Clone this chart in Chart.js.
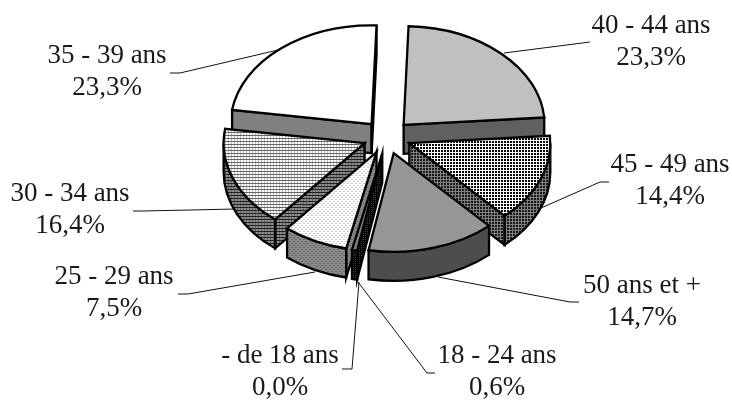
<!DOCTYPE html>
<html>
<head>
<meta charset="utf-8">
<title>Répartition par âge</title>
<style>
  html, body { margin: 0; padding: 0; background: #fff; }
  #wrap { position: relative; width: 732px; height: 400px; }
</style>
</head>
<body>
<div id="wrap"><canvas id="myChart" width="732" height="400"></canvas></div>
<script src="https://cdn.jsdelivr.net/npm/chart.js@4"></script>
<script>
const categories = ['40 - 44 ans', '45 - 49 ans', '50 ans et +', '18 - 24 ans', '- de 18 ans', '25 - 29 ans', '30 - 34 ans', '35 - 39 ans'];
const shares = [23.3, 14.4, 14.7, 0.6, 0.0, 7.5, 16.4, 23.3];

// little bitmap tiles for the old office style hatching
function tile(rows, colors) {
  const c = document.createElement('canvas');
  c.width = rows[0].length;
  c.height = rows.length;
  const g = c.getContext('2d');
  rows.forEach((row, y) => {
    row.split('').forEach((ch, x) => {
      g.fillStyle = colors[ch];
      g.fillRect(x, y, 1, 1);
    });
  });
  return g.createPattern(c, 'repeat');
}

const topFills = [
  '#c0c0c0',
  tile(['##.', '##.', '...'], { '#': '#000', '.': '#fff' }),
  '#969696',
  '#808080',
  '#808080',
  tile(['....', '.gg.', '....', 'g..g'], { '.': '#fff', g: '#c4c4c4' }),
  tile(['ddd', 'l..', 'l..'], { d: '#666', l: '#bbb', '.': '#fff' }),
  '#ffffff'
];
const sideFills = [
  '#606060',
  tile(['##g', '##g', 'ggg'], { '#': '#1a1a1a', g: '#808080' }),
  '#4d4d4d',
  tile(['##', '#d'], { '#': '#000', d: '#444' }),
  '#000000',
  tile(['bbbb', 'bddb', 'bbbb', 'dbbd'], { b: '#8a8a8a', d: '#666' }),
  tile(['ddd', 'lbb', 'lbb'], { d: '#222', l: '#666', b: '#8c8c8c' }),
  '#808080'
];

// where the labels sit: text centre, first baseline, then the leader line points
const callouts = [
  { x: 651, y: 33, line: [[504, 53], [590, 42]] },
  { x: 670, y: 172, line: [[541, 208], [600, 182], [609, 182]] },
  { x: 642, y: 293, line: [[438, 277], [570, 302], [579, 302]] },
  { x: 497, y: 363, line: [[358, 282], [427, 373], [435, 373]] },
  { x: 280, y: 363, line: [[359, 282], [352, 369], [342, 369]] },
  { x: 114, y: 284, line: [[315, 272], [188, 294], [178, 294]] },
  { x: 70, y: 201, line: [[236, 209], [143, 211], [133, 211]] },
  { x: 107, y: 63, line: [[278, 50], [180, 73], [170, 73]] }
];

const squash = 0.7;
const depth = 29;
const pieCentreY = 137;

const fakeThreeD = {
  id: 'fakeThreeD',
  beforeDatasetDraw(chart, args) {
    const ctx = chart.ctx;
    const arcs = args.meta.data;

    // leaders go under the pie
    ctx.save();
    ctx.strokeStyle = '#111';
    ctx.lineWidth = 1;
    callouts.forEach(c => {
      ctx.beginPath();
      c.line.forEach((p, i) => i ? ctx.lineTo(p[0], p[1]) : ctx.moveTo(p[0], p[1]));
      ctx.stroke();
    });
    ctx.restore();

    const order = arcs.map((a, i) => i).filter(i => shares[i] > 0);
    const mid = i => (arcs[i].startAngle + arcs[i].endAngle) / 2;
    order.sort((p, q) => Math.sin(mid(p)) - Math.sin(mid(q)));

    order.forEach(i => {
      const arc = arcs[i];
      const a = arc.startAngle, b = arc.endAngle, m = (a + b) / 2;
      const off = arc.options.offset;
      const R = arc.outerRadius;
      const cx = arc.x + Math.cos(m) * off;
      const cy = pieCentreY + Math.sin(m) * off * squash;
      const rimX = t => cx + Math.cos(t) * R;
      const rimY = t => cy + Math.sin(t) * R * squash;

      ctx.save();
      ctx.lineJoin = 'miter';
      ctx.lineWidth = 2.3;
      ctx.strokeStyle = '#000';
      ctx.fillStyle = sideFills[i];

      // the two cut faces, only when they look at us
      [[a, -Math.cos(a)], [b, Math.cos(b)]].forEach(face => {
        if (face[1] <= 0) return;
        const t = face[0];
        ctx.beginPath();
        ctx.moveTo(cx, cy);
        ctx.lineTo(rimX(t), rimY(t));
        ctx.lineTo(rimX(t), rimY(t) + depth);
        ctx.lineTo(cx, cy + depth);
        ctx.closePath();
        ctx.fill();
        ctx.stroke();
      });

      // outer wall, front half of the rim only
      const from = Math.max(a, 0), to = Math.min(b, Math.PI);
      if (to > from) {
        ctx.beginPath();
        ctx.ellipse(cx, cy, R, R * squash, 0, from, to);
        ctx.ellipse(cx, cy + depth, R, R * squash, 0, to, from, true);
        ctx.closePath();
        ctx.fill();
        ctx.stroke();
      }

      // top of the slice
      ctx.fillStyle = arc.options.backgroundColor;
      ctx.beginPath();
      ctx.moveTo(cx, cy);
      ctx.ellipse(cx, cy, R, R * squash, 0, a, b);
      ctx.closePath();
      ctx.fill();
      ctx.stroke();
      ctx.restore();
    });

    return false;
  },
  afterDraw(chart) {
    const ctx = chart.ctx;
    ctx.save();
    ctx.fillStyle = '#1a1a1a';
    ctx.font = '27px "Liberation Serif"';
    ctx.textAlign = 'center';
    ctx.textBaseline = 'alphabetic';
    categories.forEach((name, i) => {
      const c = callouts[i];
      ctx.fillText(name, c.x, c.y);
      ctx.fillText(shares[i].toFixed(1).replace('.', ',') + '%', c.x, c.y + 32);
    });
    ctx.restore();
  }
};

new Chart(document.getElementById('myChart'), {
  type: 'pie',
  data: {
    labels: categories,
    datasets: [{
      data: shares,
      backgroundColor: topFills,
      borderColor: '#000',
      borderWidth: 2,
      offset: 24,
      hoverOffset: 24
    }]
  },
  options: {
    responsive: false,
    animation: false,
    rotation: 2,
    layout: { padding: { left: 233, right: 191, top: 46, bottom: 46 } },
    plugins: { legend: { display: false }, tooltip: { enabled: false } }
  },
  plugins: [fakeThreeD]
});
</script>
</body>
</html>
